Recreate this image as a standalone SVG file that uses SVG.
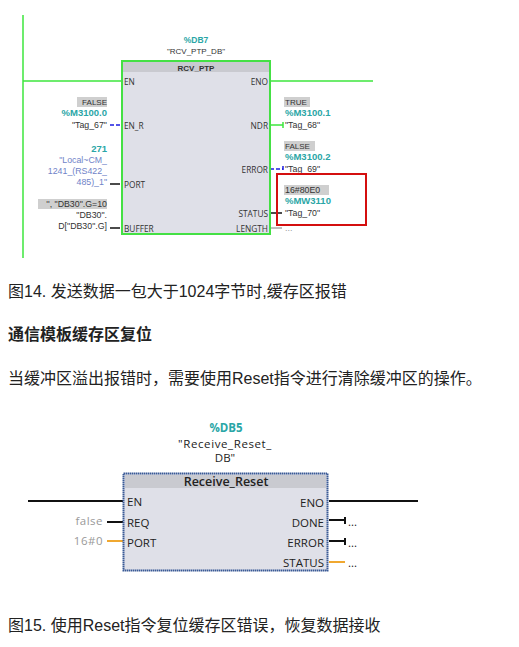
<svg xmlns="http://www.w3.org/2000/svg" width="519" height="647" viewBox="0 0 519 647">
<style>
.t{font-family:"Liberation Sans","Noto Sans",sans-serif;font-size:8.800px;fill:#333}
.c{fill:#2aa6a6;font-weight:700;font-size:9.500px}
.b{fill:#6f83c8}
.e{text-anchor:end}
.m{text-anchor:middle}
.g{fill:#cfcfcf}
.n{font-family:"Open Sans","Noto Sans",sans-serif;font-size:8.300px;fill:#333}
.k{font-size:8px}
.cap{font-family:"Liberation Sans","Noto Sans CJK SC",sans-serif;font-size:16px;fill:#222}
.h{font-weight:700}
.r{font-family:"Open Sans","Noto Sans",sans-serif;font-size:11.5px;fill:#222}
.w{fill:none;stroke-width:1.5}
</style>
<rect width="519" height="647" fill="#fff"/>
<g id="connectors" class="w">
<path d="M23 15V258M23 81H122M270 81H373" stroke="#3ee63e"/>
<path d="M110 125H120" stroke="#1c1ce0" stroke-dasharray="4 2"/>
<path d="M110 184H120M110 228H120M271 213H282" stroke="#111"/>
<path d="M270 125H283M283 122V128" stroke="#3ee63e"/>
<path d="M270 169H283M283 166V172" stroke="#1c1ce0" stroke-dasharray="4 2"/>
<path d="M270 228H282" stroke="#aaa"/>
<path d="M28 501H123M329 501H418" stroke="#111" stroke-width="2.200"/>
<path d="M107 522H123M329 520H345M345 517V524M329 541H345M345 538V545" stroke="#111" stroke-width="2"/>
<path d="M107 541H123M329 562H345" stroke="#f0a830" stroke-width="2"/>
</g>
<g id="block-rcv-ptp">
<rect x="122" y="61" width="148" height="173" fill="#dfe0e8" stroke="#44e044" stroke-width="2"/>
<rect x="123" y="62" width="146" height="10" fill="#c9cad0"/>
<text class="t m c" x="196" y="43" style="font-size:8.500px">%DB7</text>
<text class="t m k" x="196" y="54">"RCV_PTP_DB"</text>
<text class="t m h k" x="196" y="71">RCV_PTP</text>
<text class="n" x="124" y="85">EN</text>
<text class="n" x="124" y="129">EN_R</text>
<text class="n" x="124" y="188">PORT</text>
<text class="n" x="124" y="232">BUFFER</text>
<text class="n e" x="268" y="85">ENO</text>
<text class="n e" x="268" y="129">NDR</text>
<text class="n e" x="268" y="173">ERROR</text>
<text class="n e" x="268" y="217">STATUS</text>
<text class="n e" x="268" y="232">LENGTH</text>
</g>
<g id="inputs">
<rect x="77" y="97" width="30" height="10" class="g"/>
<text class="t e k" x="107" y="105">FALSE</text>
<text class="t e c" x="107" y="116">%M3100.0</text>
<text class="t e" x="107" y="128">"Tag_67"</text>
<text class="t e c" x="107" y="152">271</text>
<text class="t e b" x="107" y="163">"Local~CM_</text>
<text class="t e b" x="107" y="174">1241_(RS422_</text>
<text class="t e b" x="107" y="185">485)_1"</text>
<rect x="38" y="199" width="69" height="10" class="g"/>
<text class="t e" x="107" y="207">'', "DB30".G=10</text>
<text class="t e" x="107" y="218">"DB30".</text>
<text class="t e" x="107" y="229">D["DB30".G]</text>
</g>
<g id="outputs">
<rect x="284" y="97" width="26" height="10" class="g"/>
<text class="t k" x="285" y="105">TRUE</text>
<text class="t c" x="285" y="116">%M3100.1</text>
<text class="t" x="285" y="128">"Tag_68"</text>
<rect x="284" y="141" width="31" height="10" class="g"/>
<text class="t k" x="285" y="149">FALSE</text>
<text class="t c" x="285" y="160">%M3100.2</text>
<text class="t" x="285" y="172">"Tag_69"</text>
<rect x="284" y="185" width="45" height="10" class="g"/>
<text class="t" x="285" y="193">16#80E0</text>
<text class="t c" x="285" y="204">%MW3110</text>
<text class="t" x="285" y="216">"Tag_70"</text>
<text class="t" x="285" y="231" style="fill:#999">...</text>
</g>
<rect id="highlight" x="277" y="174" width="89" height="51" fill="none" stroke="#d40f0f" stroke-width="2"/>
<text class="cap" x="8" y="297">图14. 发送数据一包大于1024字节时,缓存区报错</text>
<text class="cap h" x="8" y="340">通信模板缓存区复位</text>
<text class="cap" x="8" y="384">当缓冲区溢出报错时，需要使用Reset指令进行清除缓冲区的操作。</text>
<g id="block-receive-reset">
<rect x="123.500" y="473.500" width="204" height="97" fill="#dfe0e8" stroke="#3a5a96" stroke-width="2" stroke-dasharray="1.500 .5"/>
<rect x="125" y="475" width="201" height="13" fill="#c9cad0"/>
<text class="r m" x="226" y="432" style="fill:#2aa6a6;font-weight:700">%DB5</text>
<text class="r m" x="225" y="448" letter-spacing=".6">"Receive_Reset_</text>
<text class="r m" x="225" y="462">DB"</text>
<text class="r m" x="226" y="486" style="font-weight:600;font-size:12.500px">Receive_Reset</text>
<text class="r" x="127" y="506">EN</text>
<text class="r" x="127" y="527">REQ</text>
<text class="r" x="127" y="547">PORT</text>
<text class="r e" x="324" y="507">ENO</text>
<text class="r e" x="324" y="527">DONE</text>
<text class="r e" x="324" y="547">ERROR</text>
<text class="r e" x="324" y="567">STATUS</text>
<text class="r e" x="103" y="525" style="fill:#999" letter-spacing=".5">false</text>
<text class="r e" x="103" y="545" style="fill:#999" letter-spacing=".5">16#0</text>
<text class="r" x="348" y="526">...</text>
<text class="r" x="348" y="547">...</text>
<text class="r" x="348" y="567">...</text>
</g>
<text class="cap" x="8" y="631">图15. 使用Reset指令复位缓存区错误，恢复数据接收</text>
</svg>
